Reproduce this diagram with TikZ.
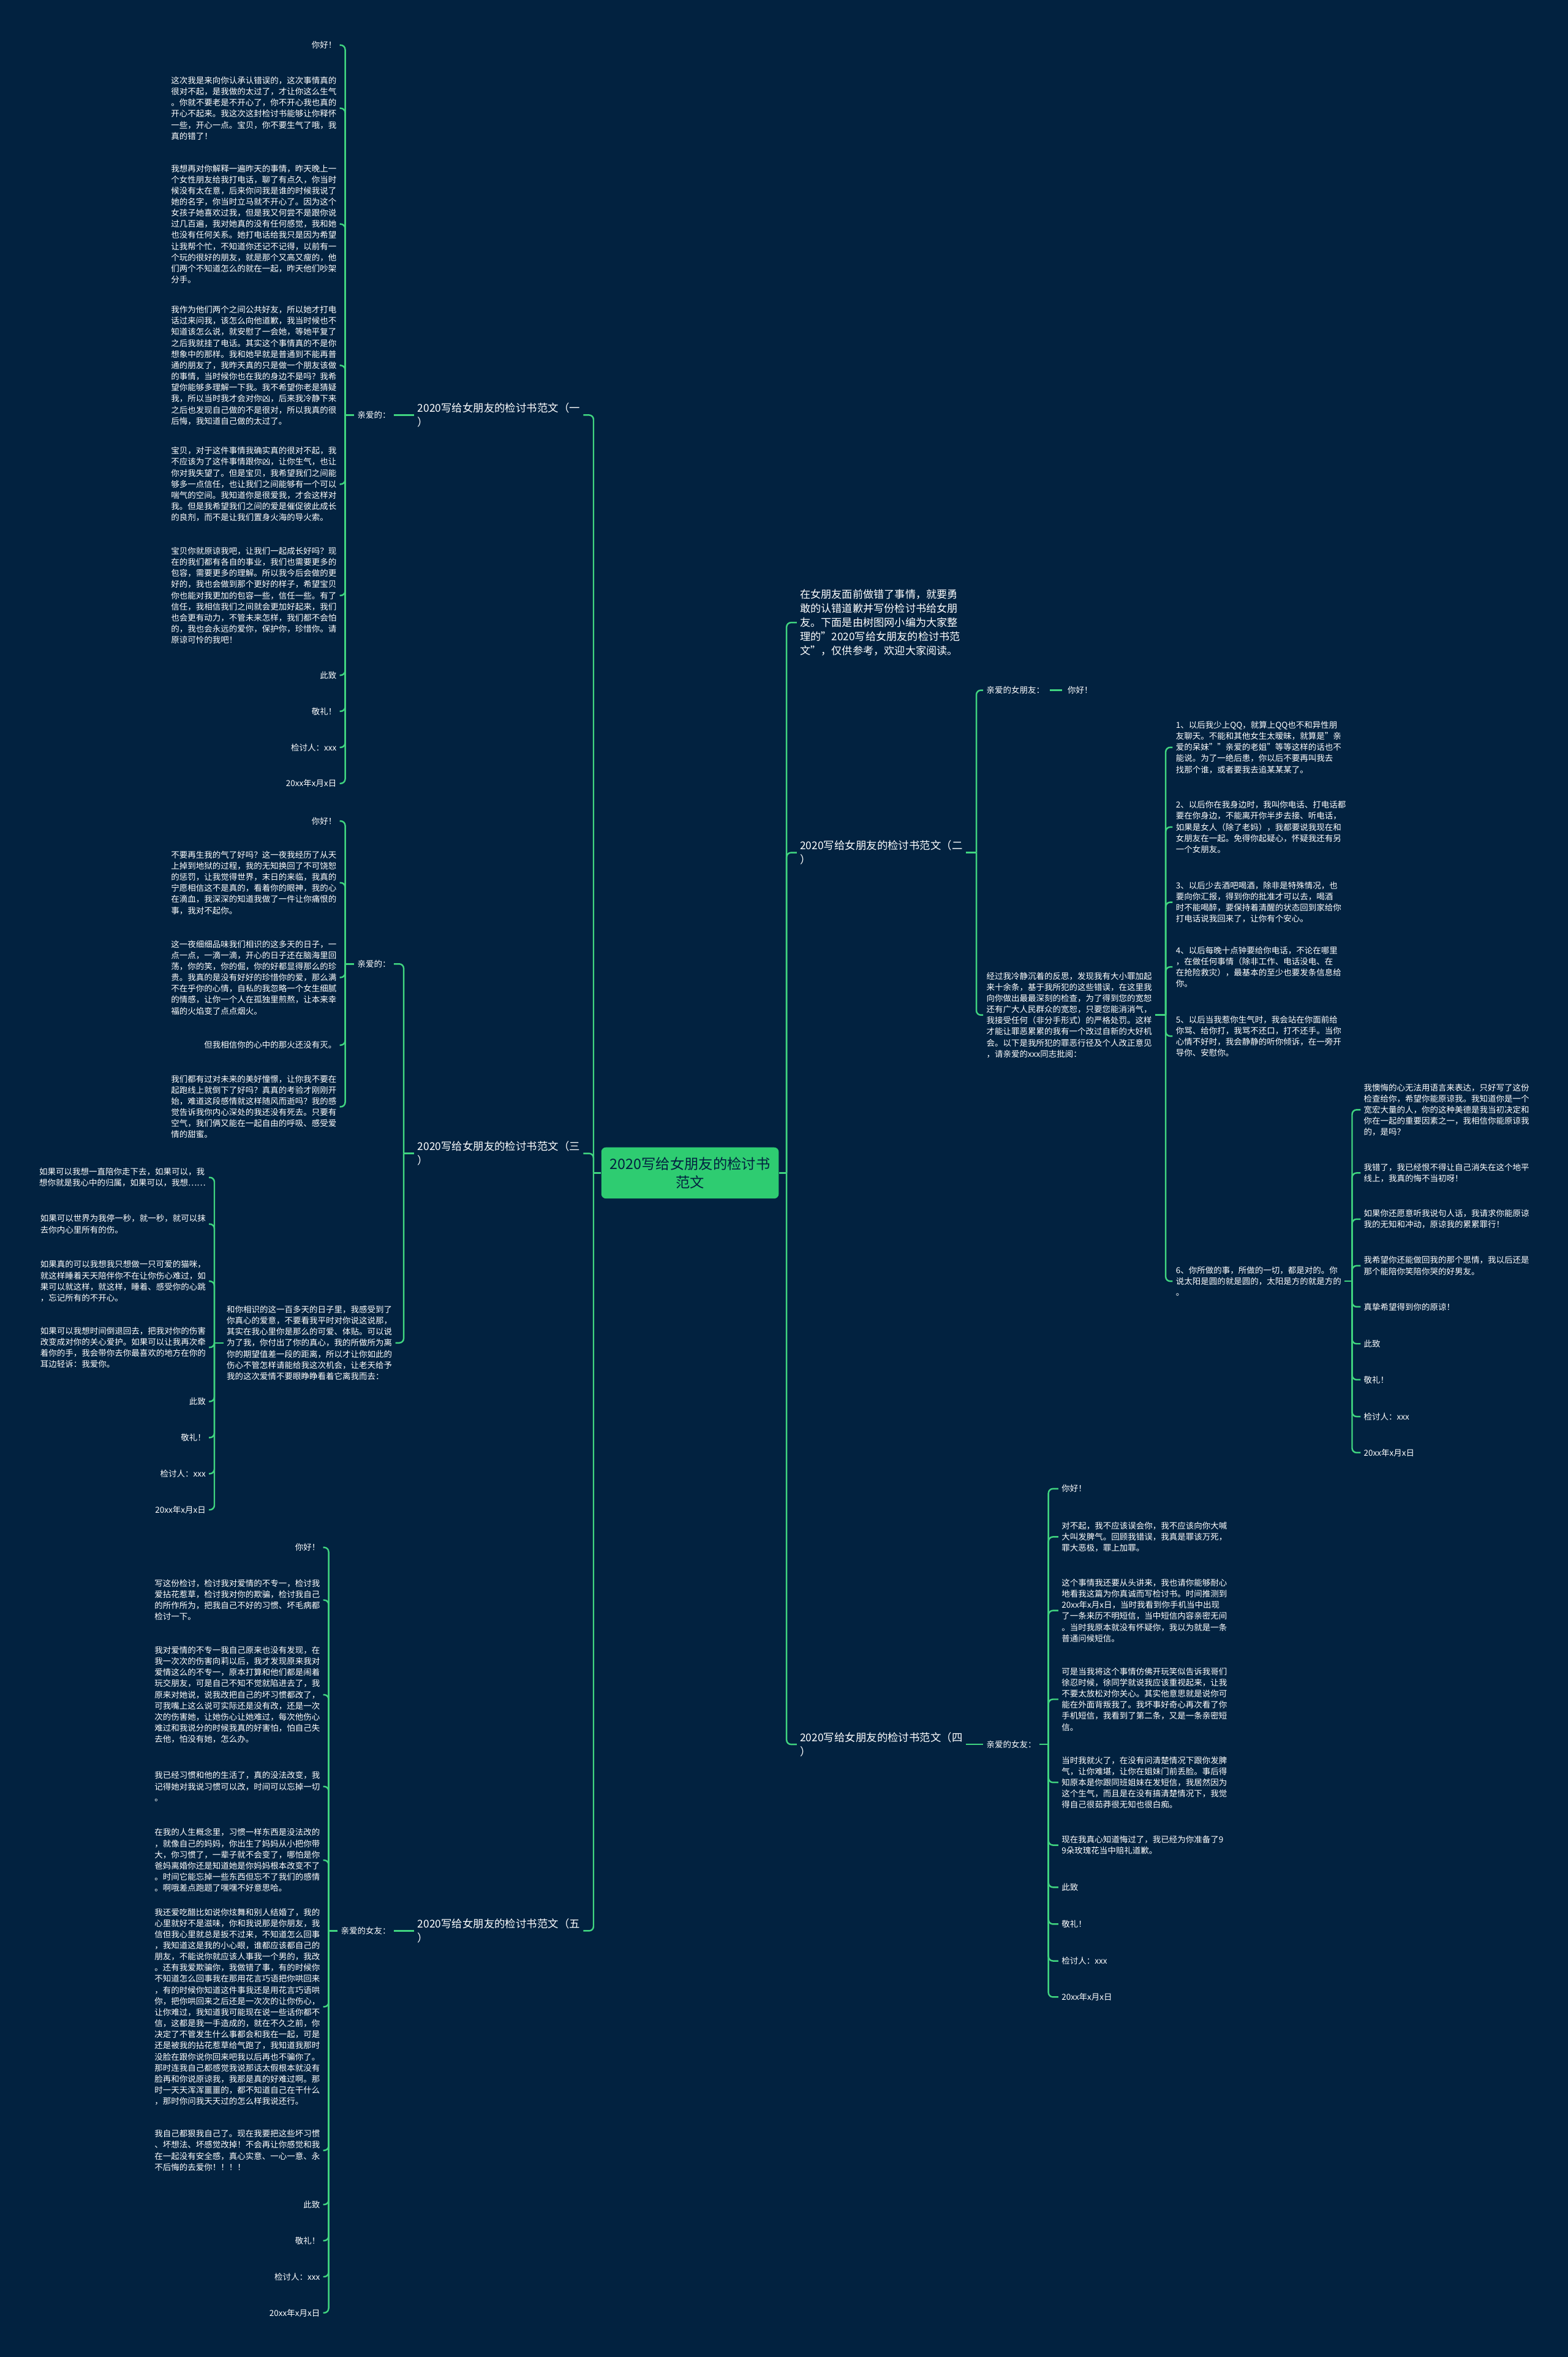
\documentclass[tikz,border=0pt]{standalone}
\usepackage{fontspec}
\setmainfont{Noto Sans CJK SC}
\usetikzlibrary{calc}
\definecolor{bg}{RGB}{2,34,64}
\definecolor{ln}{RGB}{64,212,128}
\definecolor{rootc}{RGB}{46,204,113}
\tikzset{
  conn/.style={draw=ln, line width=1pt, rounded corners=3pt},
  leaf/.style={text=white, font=\fontsize{5.5}{7.4}\selectfont, align=left, inner sep=2pt},
  lab/.style={text=white, font=\fontsize{7.1}{9.5}\selectfont, align=left, inner sep=2pt},
  rootbox/.style={fill=rootc, rounded corners=3pt, minimum width=118pt, minimum height=34pt, align=center, text=bg, font=\fontsize{9.5}{12.5}\selectfont, inner sep=2pt}
}
\begin{document}
\begin{tikzpicture}[x=1pt,y=-1pt]
\fill[bg] (0,0) rectangle (1043,1567.4);
\useasboundingbox (0,0) rectangle (1043,1567.4);

\node[rootbox] (root) at (459,780) {2020写给女朋友的检讨书\\范文};

% ---------- branch labels ----------
\node[lab,anchor=east] (L1) at (388,276) {2020写给女朋友的检讨书范文（一\\）};
\node[lab,anchor=east] (L3) at (388,767) {2020写给女朋友的检讨书范文（三\\）};
\node[lab,anchor=east] (L5) at (388,1284) {2020写给女朋友的检讨书范文（五\\）};
\node[lab,anchor=west,font=\fontsize{7}{9.4}\selectfont] (intro) at (530,414) {在女朋友面前做错了事情，就要勇\\敢的认错道歉并写份检讨书给女朋\\友。下面是由树图网小编为大家整\\理的"2020写给女朋友的检讨书范\\文"，仅供参考，欢迎大家阅读。};
\node[lab,anchor=west] (R2) at (530,567) {2020写给女朋友的检讨书范文（二\\）};
\node[lab,anchor=west] (R4) at (530,1160) {2020写给女朋友的检讨书范文（四\\）};

\coordinate (tl) at ($(root.west)+(-5,0)$);
\draw[conn] (root.west) -- (tl);
\foreach \n in {L1,L3,L5} \draw[conn] (tl) |- (\n.east);
\coordinate (tr) at ($(root.east)+(5,0)$);
\draw[conn] (root.east) -- (tr);
\foreach \n in {intro,R2,R4} \draw[conn] (tr) |- (\n.west);

% ---------- branch 1 ----------
\node[leaf,anchor=east] (k1) at (262,276) {亲爱的：};
\draw[conn] (L1.west) -- (k1.east);
\node[leaf,anchor=east] (a1) at (226,30) {你好！};
\node[leaf,anchor=east] (a2) at (226,72) {这次我是来向你认承认错误的，这次事情真的\\很对不起，是我做的太过了，才让你这么生气\\。你就不要老是不开心了，你不开心我也真的\\开心不起来。我这次这封检讨书能够让你释怀\\一些，开心一点。宝贝，你不要生气了哦，我\\真的错了！};
\node[leaf,anchor=east] (a3) at (226,149) {我想再对你解释一遍昨天的事情，昨天晚上一\\个女性朋友给我打电话，聊了有点久，你当时\\候没有太在意，后来你问我是谁的时候我说了\\她的名字，你当时立马就不开心了。因为这个\\女孩子她喜欢过我，但是我又何尝不是跟你说\\过几百遍，我对她真的没有任何感觉，我和她\\也没有任何关系。她打电话给我只是因为希望\\让我帮个忙，不知道你还记不记得，以前有一\\个玩的很好的朋友，就是那个又高又瘦的，他\\们两个不知道怎么的就在一起，昨天他们吵架\\分手。};
\node[leaf,anchor=east] (a4) at (226,243) {我作为他们两个之间公共好友，所以她才打电\\话过来问我，该怎么向他道歉，我当时候也不\\知道该怎么说，就安慰了一会她，等她平复了\\之后我就挂了电话。其实这个事情真的不是你\\想象中的那样。我和她早就是普通到不能再普\\通的朋友了，我昨天真的只是做一个朋友该做\\的事情，当时候你也在我的身边不是吗？我希\\望你能够多理解一下我。我不希望你老是猜疑\\我，所以当时我才会对你凶，后来我冷静下来\\之后也发现自己做的不是很对，所以我真的很\\后悔，我知道自己做的太过了。};
\node[leaf,anchor=east] (a5) at (226,322) {宝贝，对于这件事情我确实真的很对不起，我\\不应该为了这件事情跟你凶，让你生气，也让\\你对我失望了。但是宝贝，我希望我们之间能\\够多一点信任，也让我们之间能够有一个可以\\喘气的空间。我知道你是很爱我，才会这样对\\我。但是我希望我们之间的爱是催促彼此成长\\的良剂，而不是让我们置身火海的导火索。};
\node[leaf,anchor=east] (a6) at (226,396) {宝贝你就原谅我吧，让我们一起成长好吗？现\\在的我们都有各自的事业，我们也需要更多的\\包容，需要更多的理解。所以我今后会做的更\\好的，我也会做到那个更好的样子，希望宝贝\\你也能对我更加的包容一些，信任一些。有了\\信任，我相信我们之间就会更加好起来，我们\\也会更有动力，不管未来怎样，我们都不会怕\\的，我也会永远的爱你，保护你，珍惜你。请\\原谅可怜的我吧！};
\node[leaf,anchor=east] (a7) at (226,449) {此致};
\node[leaf,anchor=east] (a8) at (226,473) {敬礼！};
\node[leaf,anchor=east] (a9) at (226,497) {检讨人：xxx};
\node[leaf,anchor=east] (a10) at (226,521) {20xx年x月x日};
\coordinate (kb1) at ($(k1.west)+(-6,0)$);
\draw[conn] (k1.west) -- (kb1);
\foreach \n in {a1,a2,a3,a4,a5,a6,a7,a8,a9,a10} \draw[conn] (kb1) |- (\n.east);

% ---------- branch 3 ----------
\node[leaf,anchor=east] (k3) at (262,641) {亲爱的：};
\node[leaf,anchor=east] (h3) at (263,893) {和你相识的这一百多天的日子里，我感受到了\\你真心的爱意，不要看我平时对你说这说那，\\其实在我心里你是那么的可爱、体贴。可以说\\为了我，你付出了你的真心，我的所做所为离\\你的期望值差一段的距离，所以才让你如此的\\伤心不管怎样请能给我这次机会，让老天给予\\我的这次爱情不要眼睁睁看着它离我而去：};
\coordinate (lb3) at ($(L3.west)+(-7,0)$);
\draw[conn] (L3.west) -- (lb3);
\foreach \n in {k3,h3} \draw[conn] (lb3) |- (\n.east);

\node[leaf,anchor=east] (c1) at (226,546) {你好！};
\node[leaf,anchor=east] (c2) at (226,587) {不要再生我的气了好吗？这一夜我经历了从天\\上掉到地狱的过程，我的无知换回了不可饶恕\\的惩罚，让我觉得世界，末日的来临，我真的\\宁愿相信这不是真的，看着你的眼神，我的心\\在滴血，我深深的知道我做了一件让你痛恨的\\事，我对不起你。};
\node[leaf,anchor=east] (c3) at (226,650) {这一夜细细品味我们相识的这多天的日子，一\\点一点，一滴一滴，开心的日子还在脑海里回\\荡，你的笑，你的倔，你的好都显得那么的珍\\贵。我真的是没有好好的珍惜你的爱，那么满\\不在乎你的心情，自私的我忽略一个女生细腻\\的情感，让你一个人在孤独里煎熬，让本来幸\\福的火焰变了点点烟火。};
\node[leaf,anchor=east] (c4) at (226,695) {但我相信你的心中的那火还没有灭。};
\node[leaf,anchor=east] (c5) at (226,736) {我们都有过对未来的美好憧憬，让你我不要在\\起跑线上就倒下了好吗？真真的考验才刚刚开\\始，难道这段感情就这样随风而逝吗？我的感\\觉告诉我你内心深处的我还没有死去。只要有\\空气，我们俩又能在一起自由的呼吸、感受爱\\情的甜蜜。};
\coordinate (kb3) at ($(k3.west)+(-6,0)$);
\draw[conn] (k3.west) -- (kb3);
\foreach \n in {c1,c2,c3,c4,c5} \draw[conn] (kb3) |- (\n.east);

\node[leaf,anchor=east] (d1) at (139,783) {如果可以我想一直陪你走下去，如果可以，我\\想你就是我心中的归属，如果可以，我想……};
\node[leaf,anchor=east] (d2) at (139,814) {如果可以世界为我停一秒，就一秒，就可以抹\\去你内心里所有的伤。};
\node[leaf,anchor=east] (d3) at (139,852) {如果真的可以我想我只想做一只可爱的猫咪，\\就这样睡着天天陪伴你不在让你伤心难过，如\\果可以就这样，就这样，睡着、感受你的心跳\\，忘记所有的不开心。};
\node[leaf,anchor=east] (d4) at (139,896) {如果可以我想时间倒退回去，把我对你的伤害\\改变成对你的关心爱护。如果可以让我再次牵\\着你的手，我会带你去你最喜欢的地方在你的\\耳边轻诉：我爱你。};
\node[leaf,anchor=east] (d5) at (139,932) {此致};
\node[leaf,anchor=east] (d6) at (139,956) {敬礼！};
\node[leaf,anchor=east] (d7) at (139,980) {检讨人：xxx};
\node[leaf,anchor=east] (d8) at (139,1004) {20xx年x月x日};
\coordinate (hb3) at ($(h3.west)+(-6,0)$);
\draw[conn] (h3.west) -- (hb3);
\foreach \n in {d1,d2,d3,d4,d5,d6,d7,d8} \draw[conn] (hb3) |- (\n.east);

% ---------- branch 5 ----------
\node[leaf,anchor=east] (k5) at (262,1284) {亲爱的女友：};
\draw[conn] (L5.west) -- (k5.east);
\node[leaf,anchor=east] (e1) at (215,1029) {你好！};
\node[leaf,anchor=east] (e2) at (215,1064) {写这份检讨，检讨我对爱情的不专一，检讨我\\爱拈花惹草，检讨我对你的欺骗，检讨我自己\\的所作所为，把我自己不好的习惯、坏毛病都\\检讨一下。};
\node[leaf,anchor=east] (e3) at (215,1127) {我对爱情的不专一我自己原来也没有发现，在\\我一次次的伤害向莉以后，我才发现原来我对\\爱情这么的不专一，原本打算和他们都是闹着\\玩交朋友，可是自己不知不觉就陷进去了，我\\原来对她说，说我改把自己的坏习惯都改了，\\可我嘴上这么说可实际还是没有改，还是一次\\次的伤害她，让她伤心让她难过，每次他伤心\\难过和我说分的时候我真的好害怕，怕自己失\\去他，怕没有她，怎么办。};
\node[leaf,anchor=east] (e4) at (215,1188) {我已经习惯和他的生活了，真的没法改变，我\\记得她对我说习惯可以改，时间可以忘掉一切\\。};
\node[leaf,anchor=east] (e5) at (215,1237) {在我的人生概念里，习惯一样东西是没法改的\\，就像自己的妈妈，你出生了妈妈从小把你带\\大，你习惯了，一辈子就不会变了，哪怕是你\\爸妈离婚你还是知道她是你妈妈根本改变不了\\。时间它能忘掉一些东西但忘不了我们的感情\\。啊哦差点跑题了嘿嘿不好意思哈。};
\node[leaf,anchor=east] (e6) at (215,1334.5) {我还爱吃醋比如说你炫舞和别人结婚了，我的\\心里就好不是滋味，你和我说那是你朋友，我\\信但我心里就总是扳不过来，不知道怎么回事\\，我知道这是我的小心眼，谁都应该都自己的\\朋友，不能说你就应该人事我一个男的，我改\\。还有我爱欺骗你，我做错了事，有的时候你\\不知道怎么回事我在那用花言巧语把你哄回来\\，有的时候你知道这件事我还是用花言巧语哄\\你，把你哄回来之后还是一次次的让你伤心，\\让你难过，我知道我可能现在说一些话你都不\\信，这都是我一手造成的，就在不久之前，你\\决定了不管发生什么事都会和我在一起，可是\\还是被我的拈花惹草给气跑了，我知道我那时\\没脸在跟你说你回来吧我以后再也不骗你了。\\那时连我自己都感觉我说那话太假根本就没有\\脸再和你说原谅我，我那是真的好难过啊。那\\时一天天浑浑噩噩的，都不知道自己在干什么\\，那时你问我天天过的怎么样我说还行。};
\node[leaf,anchor=east] (e7) at (215,1430) {我自己都狠我自己了。现在我要把这些坏习惯\\、坏想法、坏感觉改掉！不会再让你感觉和我\\在一起没有安全感，真心实意、一心一意、永\\不后悔的去爱你！！！！};
\node[leaf,anchor=east] (e8) at (215,1466) {此致};
\node[leaf,anchor=east] (e9) at (215,1490) {敬礼！};
\node[leaf,anchor=east] (e10) at (215,1514) {检讨人：xxx};
\node[leaf,anchor=east] (e11) at (215,1538) {20xx年x月x日};
\coordinate (kb5) at ($(k5.west)+(-6,0)$);
\draw[conn] (k5.west) -- (kb5);
\foreach \n in {e1,e2,e3,e4,e5,e6,e7,e8,e9,e10,e11} \draw[conn] (kb5) |- (\n.east);

% ---------- branch 2 ----------
\node[leaf,anchor=west] (k2) at (654,459) {亲爱的女朋友：};
\node[leaf,anchor=west] (k2b) at (708,459) {你好！};
\draw[conn, shorten <=1.5pt, shorten >=1.5pt] (k2.east) -- (k2b.west);
\node[leaf,anchor=west] (g2) at (654,675) {经过我冷静沉着的反思，发现我有大小罪加起\\来十余条，基于我所犯的这些错误，在这里我\\向你做出最最深刻的检查，为了得到您的宽恕\\还有广大人民群众的宽恕，只要您能消消气，\\我接受任何（非分手形式）的严格处罚。这样\\才能让罪恶累累的我有一个改过自新的大好机\\会。以下是我所犯的罪恶行径及个人改正意见\\，请亲爱的xxx同志批阅：};
\coordinate (rb2) at ($(R2.east)+(7,0)$);
\draw[conn] (R2.east) -- (rb2);
\foreach \n in {k2,g2} \draw[conn] (rb2) |- (\n.west);

\node[leaf,anchor=west] (i1) at (780,497) {1、以后我少上QQ，就算上QQ也不和异性朋\\友聊天。不能和其他女生太暧昧，就算是"亲\\爱的呆妹""亲爱的老姐"等等这样的话也不\\能说。为了一绝后患，你以后不要再叫我去\\找那个谁，或者要我去追某某某了。};
\node[leaf,anchor=west] (i2) at (780,550) {2、以后你在我身边时，我叫你电话、打电话都\\要在你身边，不能离开你半步去接、听电话，\\如果是女人（除了老妈），我都要说我现在和\\女朋友在一起。免得你起疑心，怀疑我还有另\\一个女朋友。};
\node[leaf,anchor=west] (i3) at (780,600) {3、以后少去酒吧喝酒，除非是特殊情况，也\\要向你汇报，得到你的批准才可以去，喝酒\\时不能喝醉，要保持着清醒的状态回到家给你\\打电话说我回来了，让你有个安心。};
\node[leaf,anchor=west] (i4) at (780,643) {4、以后每晚十点钟要给你电话，不论在哪里\\，在做任何事情（除非工作、电话没电、在\\在抢险救灾），最基本的至少也要发条信息给\\你。};
\node[leaf,anchor=west] (i5) at (780,689) {5、以后当我惹你生气时，我会站在你面前给\\你骂、给你打，我骂不还口，打不还手。当你\\心情不好时，我会静静的听你倾诉，在一旁开\\导你、安慰你。};
\node[leaf,anchor=west] (i6) at (780,852) {6、你所做的事，所做的一切，都是对的。你\\说太阳是圆的就是圆的，太阳是方的就是方的\\。};
\coordinate (gb2) at ($(g2.east)+(7,0)$);
\draw[conn] (g2.east) -- (gb2);
\foreach \n in {i1,i2,i3,i4,i5,i6} \draw[conn] (gb2) |- (\n.west);

\node[leaf,anchor=west] (j1) at (905,738) {我懊悔的心无法用语言来表达，只好写了这份\\检查给你，希望你能原谅我。我知道你是一个\\宽宏大量的人，你的这种美德是我当初决定和\\你在一起的重要因素之一，我相信你能原谅我\\的，是吗？};
\node[leaf,anchor=west] (j2) at (905,780) {我错了，我已经恨不得让自己消失在这个地平\\线上，我真的悔不当初呀！};
\node[leaf,anchor=west] (j3) at (905,810.7) {如果你还愿意听我说句人话，我请求你能原谅\\我的无知和冲动，原谅我的累累罪行！};
\node[leaf,anchor=west] (j4) at (905,841.7) {我希望你还能做回我的那个思情，我以后还是\\那个能陪你笑陪你哭的好男友。};
\node[leaf,anchor=west] (j5) at (905,869) {真挚希望得到你的原谅！};
\node[leaf,anchor=west] (j6) at (905,893.6) {此致};
\node[leaf,anchor=west] (j7) at (905,917.5) {敬礼！};
\node[leaf,anchor=west] (j8) at (905,942) {检讨人：xxx};
\node[leaf,anchor=west] (j9) at (905,966) {20xx年x月x日};
\coordinate (ib6) at ($(i6.east)+(5,0)$);
\draw[conn] (i6.east) -- (ib6);
\foreach \n in {j1,j2,j3,j4,j5,j6,j7,j8,j9} \draw[conn] (ib6) |- (\n.west);

% ---------- branch 4 ----------
\node[leaf,anchor=west] (k4) at (654,1160) {亲爱的女友：};
\draw[conn] (R4.east) -- (k4.west);
\node[leaf,anchor=west] (f1) at (704,990) {你好！};
\node[leaf,anchor=west] (f2) at (704,1022) {对不起，我不应该误会你，我不应该向你大喊\\大叫发脾气。回顾我错误，我真是罪该万死，\\罪大恶极，罪上加罪。};
\node[leaf,anchor=west] (f3) at (704,1071) {这个事情我还要从头讲来，我也请你能够耐心\\地看我这篇为你真诚而写检讨书。时间推测到\\20xx年x月x日，当时我看到你手机当中出现\\了一条来历不明短信，当中短信内容亲密无间\\。当时我原本就没有怀疑你，我以为就是一条\\普通问候短信。};
\node[leaf,anchor=west] (f4) at (704,1130) {可是当我将这个事情仿佛开玩笑似告诉我哥们\\徐忍时候，徐同学就说我应该重视起来，让我\\不要太放松对你关心。其实他意思就是说你可\\能在外面背叛我了。我坏事好奇心再次看了你\\手机短信，我看到了第二条，又是一条亲密短\\信。};
\node[leaf,anchor=west] (f5) at (704,1185.3) {当时我就火了，在没有问清楚情况下跟你发脾\\气，让你难堪，让你在姐妹门前丢脸。事后得\\知原本是你跟同班姐妹在发短信，我居然因为\\这个生气，而且是在没有搞清楚情况下，我觉\\得自己很茹莽很无知也很白痴。};
\node[leaf,anchor=west] (f6) at (704,1227) {现在我真心知道悔过了，我已经为你准备了9\\9朵玫瑰花当中赔礼道歉。};
\node[leaf,anchor=west] (f7) at (704,1255) {此致};
\node[leaf,anchor=west] (f8) at (704,1279.5) {敬礼！};
\node[leaf,anchor=west] (f9) at (704,1304) {检讨人：xxx};
\node[leaf,anchor=west] (f10) at (704,1328) {20xx年x月x日};
\coordinate (kb4) at ($(k4.east)+(6,0)$);
\draw[conn] (k4.east) -- (kb4);
\foreach \n in {f1,f2,f3,f4,f5,f6,f7,f8,f9,f10} \draw[conn] (kb4) |- (\n.west);

\end{tikzpicture}
\end{document}
